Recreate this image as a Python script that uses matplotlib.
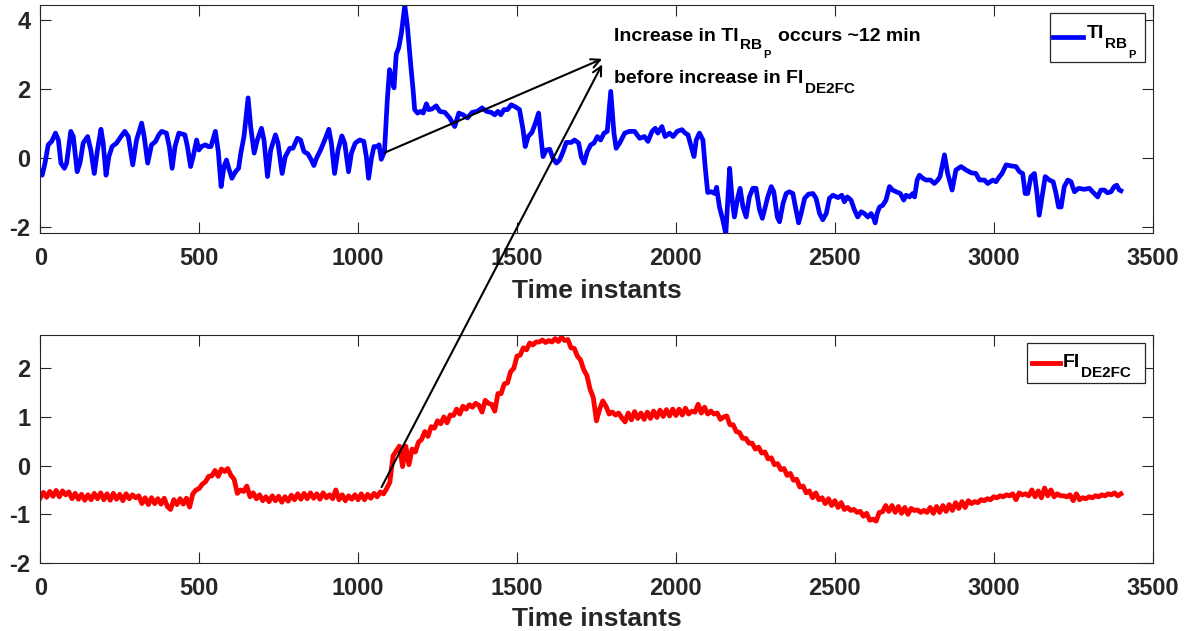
import matplotlib
matplotlib.use("Agg")
import matplotlib.pyplot as plt
from matplotlib.patches import ConnectionPatch, Rectangle
from matplotlib.lines import Line2D
from matplotlib.transforms import offset_copy

plt.rcParams['font.family'] = ['Liberation Sans', 'DejaVu Sans']
plt.rcParams['font.weight'] = 'bold'
plt.rcParams['axes.unicode_minus'] = False

# ---- TI_RBP series (time instant, value) ----
ti_time = [
    0, 6, 15, 25, 36, 48, 57, 65, 76, 83, 96, 104, 116, 125, 135, 149, 159, 170, 180, 191,
    198, 207, 216, 226, 240, 254, 266, 277, 291, 303, 319, 327, 338, 350, 363, 373, 382, 397, 406, 415,
    424, 436, 455, 463, 473, 481, 492, 499, 507, 520, 528, 537, 551, 560, 569, 578, 586, 593, 603, 614,
    624, 631, 641, 654, 662, 673, 683, 696, 704, 715, 725, 740, 748, 761, 771, 785, 795, 809, 819, 830,
    842, 853, 861, 869, 882, 895, 908, 916, 926, 937, 949, 958, 970, 979, 991, 1005, 1018, 1026, 1033, 1042,
    1050, 1060, 1066, 1073, 1083, 1092, 1099, 1107, 1113, 1120, 1128, 1136, 1147, 1155, 1166, 1173, 1178, 1187, 1197, 1205,
    1215, 1222, 1233, 1246, 1257, 1273, 1288, 1304, 1317, 1330, 1344, 1359, 1375, 1390, 1404, 1419, 1430, 1440, 1449, 1459,
    1470, 1482, 1495, 1508, 1519, 1526, 1535, 1547, 1558, 1568, 1574, 1582, 1592, 1603, 1613, 1624, 1634, 1645, 1655, 1671,
    1681, 1694, 1702, 1711, 1721, 1732, 1742, 1753, 1763, 1774, 1784, 1795, 1805, 1812, 1823, 1839, 1854, 1870, 1886, 1901,
    1912, 1925, 1935, 1943, 1956, 1966, 1980, 1991, 2004, 2019, 2029, 2038, 2048, 2057, 2064, 2074, 2085, 2092, 2100, 2111,
    2122, 2128, 2137, 2148, 2157, 2169, 2177, 2184, 2195, 2202, 2211, 2221, 2231, 2242, 2252, 2263, 2272, 2289, 2300, 2308,
    2319, 2326, 2337, 2347, 2357, 2368, 2375, 2386, 2394, 2405, 2417, 2431, 2441, 2452, 2462, 2473, 2483, 2494, 2510, 2522,
    2530, 2539, 2551, 2562, 2572, 2583, 2593, 2604, 2614, 2623, 2627, 2633, 2641, 2651, 2661, 2672, 2682, 2693, 2706, 2717,
    2724, 2735, 2745, 2751, 2759, 2766, 2777, 2787, 2801, 2813, 2824, 2831, 2845, 2855, 2869, 2881, 2897, 2913, 2929, 2944,
    2955, 2971, 2981, 2997, 3007, 3018, 3026, 3039, 3054, 3070, 3081, 3091, 3099, 3107, 3117, 3128, 3136, 3143, 3152, 3162,
    3175, 3187, 3196, 3204, 3212, 3222, 3233, 3243, 3254, 3267, 3285, 3301, 3311, 3327, 3337, 3348, 3358, 3369, 3379, 3387,
    3395, 3400,
]
ti_values = [
    -0.40, -0.50, -0.15, 0.38, 0.48, 0.72, 0.52, -0.15, -0.30, -0.15, 0.77, 0.62, -0.40, -0.15, 0.43, 0.62, 0.23, -0.45, 0.23, 0.83,
    0.43, -0.50, 0.04, 0.33, 0.43, 0.62, 0.77, 0.62, -0.20, 0.52, 1.01, 0.62, -0.15, 0.38, 0.48, 0.67, 0.77, 0.72, 0.33, -0.30,
    0.33, 0.72, 0.67, 0.33, -0.25, 0.04, 0.52, 0.23, 0.33, 0.38, 0.33, 0.33, 0.77, 0.20, -0.83, -0.25, -0.06, -0.30, -0.59, -0.40,
    -0.30, 0.14, 0.62, 1.74, 0.91, 0.14, 0.52, 0.86, 0.52, -0.54, 0.23, 0.67, 0.43, -0.45, 0.04, 0.28, 0.28, 0.57, 0.52, 0.18,
    0.12, -0.06, -0.22, -0.01, 0.23, 0.52, 0.83, 0.43, -0.45, 0.23, 0.64, 0.43, -0.40, 0.14, 0.43, 0.52, 0.48, 0.04, -0.59, -0.01,
    0.33, 0.33, 0.38, -0.04, 0.18, 1.69, 2.56, 2.27, 2.03, 3.00, 3.20, 3.60, 4.42, 3.83, 2.66, 1.98, 1.40, 1.30, 1.35, 1.30,
    1.57, 1.40, 1.42, 1.51, 1.35, 1.32, 1.16, 0.91, 1.30, 1.25, 1.16, 1.32, 1.35, 1.45, 1.35, 1.32, 1.25, 1.35, 1.25, 1.40,
    1.40, 1.54, 1.48, 1.40, 0.82, 0.33, 0.62, 0.74, 1.01, 1.30, 0.72, 0.04, 0.23, 0.25, -0.01, -0.15, -0.06, 0.18, 0.45, 0.45,
    0.52, 0.43, 0.04, -0.15, 0.18, 0.38, 0.43, 0.62, 0.52, 0.72, 0.77, 1.93, 0.72, 0.28, 0.43, 0.72, 0.77, 0.77, 0.57, 0.62,
    0.48, 0.77, 0.86, 0.72, 0.91, 0.62, 0.72, 0.62, 0.77, 0.82, 0.72, 0.67, 0.33, 0.04, 0.52, 0.72, 0.52, -0.25, -1.00, -0.98,
    -1.03, -0.85, -1.42, -1.81, -2.20, -0.30, -1.22, -1.71, -1.13, -0.88, -1.42, -1.71, -1.13, -0.88, -0.88, -1.50, -1.75, -1.13, -0.83, -0.98,
    -1.71, -1.85, -1.32, -1.03, -0.98, -1.03, -1.37, -1.88, -1.61, -1.17, -1.05, -1.03, -1.17, -1.61, -1.79, -1.61, -1.17, -1.08, -1.15, -1.08,
    -1.27, -1.13, -1.22, -1.51, -1.71, -1.56, -1.61, -1.71, -1.61, -1.76, -1.88, -1.61, -1.42, -1.37, -1.22, -0.83, -0.93, -0.98, -1.03, -1.22,
    -1.08, -1.13, -1.03, -1.13, -0.64, -0.50, -0.59, -0.64, -0.64, -0.74, -0.64, -0.54, 0.09, -0.45, -0.93, -0.35, -0.25, -0.35, -0.43, -0.45,
    -0.64, -0.64, -0.74, -0.64, -0.69, -0.54, -0.45, -0.20, -0.23, -0.25, -0.40, -0.45, -1.03, -1.03, -0.54, -0.45, -1.03, -1.66, -1.13, -0.54,
    -0.64, -0.69, -1.03, -1.42, -1.42, -0.83, -0.64, -0.69, -0.98, -0.88, -0.91, -0.88, -0.98, -1.13, -0.93, -0.93, -1.01, -0.98, -0.83, -0.79,
    -0.93, -0.95,
]

# ---- FI_DE2FC series, one value every 10 time instants (0 .. 3400) ----
fi_step = 10
fi_values = [
    -0.66, -0.55, -0.65, -0.53, -0.63, -0.51, -0.64, -0.52, -0.60, -0.54,
    -0.68, -0.57, -0.69, -0.59, -0.71, -0.60, -0.70, -0.57, -0.68, -0.56,
    -0.70, -0.58, -0.71, -0.57, -0.69, -0.59, -0.72, -0.58, -0.68, -0.60,
    -0.66, -0.62, -0.78, -0.66, -0.80, -0.66, -0.78, -0.68, -0.79, -0.67,
    -0.84, -0.90, -0.70, -0.80, -0.68, -0.79, -0.67, -0.85, -0.58, -0.50,
    -0.47, -0.38, -0.33, -0.22, -0.21, -0.10, -0.22, -0.07, -0.12, -0.06,
    -0.20, -0.28, -0.57, -0.50, -0.53, -0.42, -0.64, -0.56, -0.68, -0.60,
    -0.72, -0.64, -0.74, -0.62, -0.72, -0.63, -0.75, -0.64, -0.73, -0.61,
    -0.70, -0.58, -0.69, -0.57, -0.68, -0.56, -0.67, -0.58, -0.69, -0.56,
    -0.66, -0.60, -0.68, -0.50, -0.70, -0.60, -0.72, -0.62, -0.69, -0.60,
    -0.70, -0.58, -0.70, -0.59, -0.67, -0.57, -0.64, -0.54, -0.58, -0.47,
    -0.34, 0.20, 0.30, 0.40, -0.02, 0.40, 0.02, 0.34, 0.28, 0.48,
    0.54, 0.70, 0.60, 0.80, 0.77, 0.92, 0.86, 1.00, 0.88, 1.04,
    1.03, 1.16, 1.06, 1.22, 1.16, 1.25, 1.20, 1.28, 1.24, 1.10,
    1.34, 1.28, 1.26, 1.12, 1.48, 1.48, 1.68, 1.70, 1.93, 2.00,
    2.25, 2.27, 2.42, 2.38, 2.52, 2.48, 2.54, 2.54, 2.58, 2.53,
    2.57, 2.54, 2.61, 2.55, 2.64, 2.57, 2.59, 2.42, 2.41, 2.25,
    2.17, 1.97, 1.85, 1.57, 1.40, 0.92, 1.16, 1.33, 1.22, 1.06,
    1.10, 1.04, 1.08, 0.98, 0.90, 1.08, 0.94, 1.11, 0.97, 1.08,
    0.95, 1.10, 0.97, 1.12, 0.99, 1.14, 1.01, 1.15, 1.02, 1.16,
    1.03, 1.16, 1.04, 1.18, 1.06, 1.12, 1.10, 1.26, 1.08, 1.20,
    1.06, 1.12, 1.06, 1.08, 0.95, 1.00, 1.02, 0.84, 0.84, 0.70,
    0.68, 0.56, 0.56, 0.46, 0.46, 0.34, 0.38, 0.26, 0.28, 0.14,
    0.16, 0.02, 0.04, -0.08, -0.06, -0.20, -0.16, -0.30, -0.28, -0.44,
    -0.42, -0.56, -0.52, -0.66, -0.56, -0.70, -0.66, -0.78, -0.68, -0.82,
    -0.72, -0.86, -0.76, -0.90, -0.86, -0.92, -0.90, -0.96, -0.94, -1.04,
    -0.98, -1.12, -1.10, -1.14, -0.96, -0.95, -0.82, -0.94, -0.82, -0.96,
    -0.84, -0.98, -0.86, -1.00, -0.88, -0.92, -0.91, -0.96, -0.92, -0.96,
    -0.86, -0.98, -0.84, -0.96, -0.82, -0.94, -0.80, -0.92, -0.76, -0.88,
    -0.74, -0.86, -0.72, -0.78, -0.74, -0.76, -0.70, -0.72, -0.68, -0.70,
    -0.64, -0.66, -0.62, -0.64, -0.60, -0.62, -0.58, -0.70, -0.56, -0.60,
    -0.58, -0.62, -0.50, -0.64, -0.52, -0.66, -0.46, -0.62, -0.50, -0.64,
    -0.58, -0.62, -0.62, -0.64, -0.60, -0.72, -0.58, -0.70, -0.66, -0.68,
    -0.64, -0.66, -0.62, -0.64, -0.60, -0.62, -0.58, -0.60, -0.56, -0.62,
    -0.58,
]
fi_time = [i * fi_step for i in range(len(fi_values))]

x_ticks = [0, 500, 1000, 1500, 2000, 2500, 3000, 3500]
top_yticks = [-2, 0, 2, 4]
bottom_yticks = [-2, -1, 0, 1, 2]

# arrow anchors (time instant, value)
arrow_start_top = (1083, 0.15)
arrow_end_top = (1768, 2.87)
arrow_start_bottom = (1074, -0.44)
arrow_end_bottom = (1768, 2.71)

AX_COLOR = '#262626'
BLUE = '#0000ff'
RED = '#ff0000'
W, H = 1191, 631
MAIN, SUB, SUBSUB = 14, 11, 8

fig = plt.figure(figsize=(W / 100, H / 100), dpi=100)
ax1 = fig.add_axes([0.0338, 0.631, 0.934, 0.361])
ax2 = fig.add_axes([0.0338, 0.1078, 0.934, 0.361])
renderer = fig.canvas.get_renderer()


def fx(x):
    return x / W


def fy(y):
    return 1 - y / H


def style_axis(ax, yticks, ylim, labelpad):
    ax.set_xlim(0, 3500)
    ax.set_ylim(*ylim)
    ax.set_xticks(x_ticks)
    ax.set_yticks(yticks)
    ax.tick_params(direction='in', length=8, width=0.8, colors=AX_COLOR,
                   top=True, right=True, labelsize=17)
    ax.tick_params(axis='x', pad=10)
    ax.tick_params(axis='y', pad=7)
    for lab in ax.get_xticklabels() + ax.get_yticklabels():
        lab.set_fontweight('bold')
    for sp in ax.spines.values():
        sp.set_color(AX_COLOR)
        sp.set_linewidth(0.8)
    ax.set_xlabel('Time instants', fontsize=19, fontweight='bold',
                  labelpad=labelpad, color=AX_COLOR)


def rich_text(x, y, transform, pieces):
    """Draw text pieces one after another; each piece is (text, size, dy_px, gap_px)."""
    dx = 0.0
    for s, size, dy, gap in pieces:
        dx += gap
        tr = offset_copy(transform, fig=fig, x=dx, y=dy, units='dots')
        t = fig.text(x, y, s, transform=tr, fontsize=size, fontweight='bold',
                     color='black', va='baseline', ha='left', zorder=8)
        dx += t.get_window_extent(renderer).width


def legend_box(x0, x1, y0, y1, line_x0, line_x1, line_y, color, lw):
    fig.add_artist(Rectangle((fx(x0), fy(y1)), fx(x1) - fx(x0), fy(y0) - fy(y1),
                             transform=fig.transFigure, facecolor='white',
                             edgecolor=AX_COLOR, linewidth=0.9, zorder=5))
    fig.add_artist(Line2D([fx(line_x0), fx(line_x1)], [fy(line_y), fy(line_y)],
                          transform=fig.transFigure, color=color, lw=lw, zorder=6))


ax1.plot(ti_time, ti_values, color=BLUE, lw=3.4, solid_joinstyle='round')
style_axis(ax1, top_yticks, (-2.17, 4.43), 7)

ax2.plot(fi_time, fi_values, color=RED, lw=3.5, solid_joinstyle='round')
style_axis(ax2, bottom_yticks, (-2.0, 2.68), 5)

# legends: TI_RBP (top) and FI_DE2FC (bottom)
legend_box(1050, 1145, 13, 62, 1053, 1083, 37.3, BLUE, 3.4)
rich_text(fx(1087), fy(38.3), fig.transFigure,
          [('TI', MAIN, 0, 0), ('RB', SUB, -9.7, 1), ('P', SUBSUB, -19.5, 1)])
legend_box(1027, 1145, 343, 383, 1032, 1060, 363.3, RED, 3.5)
rich_text(fx(1063), fy(366.7), fig.transFigure,
          [('FI', MAIN, 0, 0), ('DE2FC', SUB, -10.6, 1)])

# annotation text
rich_text(1804, 3.39, ax1.transData,
          [('Increase in TI', MAIN, 0, 0), ('RB', SUB, -8.5, 2), ('P', SUBSUB, -17.5, 1),
           ('occurs ~12 min', MAIN, 0, 7)])
rich_text(1804, 2.18, ax1.transData,
          [('before increase in FI', MAIN, 0, 0), ('DE2FC', SUB, -10, 2)])

# arrow inside the top panel
ax1.annotate('', xy=arrow_end_top, xytext=arrow_start_top,
             arrowprops=dict(arrowstyle='->', color='black', lw=1.5,
                             shrinkA=0, shrinkB=0, mutation_scale=16))

# arrow from the bottom panel up into the top panel
con = ConnectionPatch(xyA=arrow_start_bottom, coordsA=ax2.transData,
                      xyB=arrow_end_bottom, coordsB=ax1.transData,
                      arrowstyle='->', color='black', lw=1.5,
                      shrinkA=0, shrinkB=0, mutation_scale=16)
fig.add_artist(con)

fig.savefig('out.png', dpi=100)
